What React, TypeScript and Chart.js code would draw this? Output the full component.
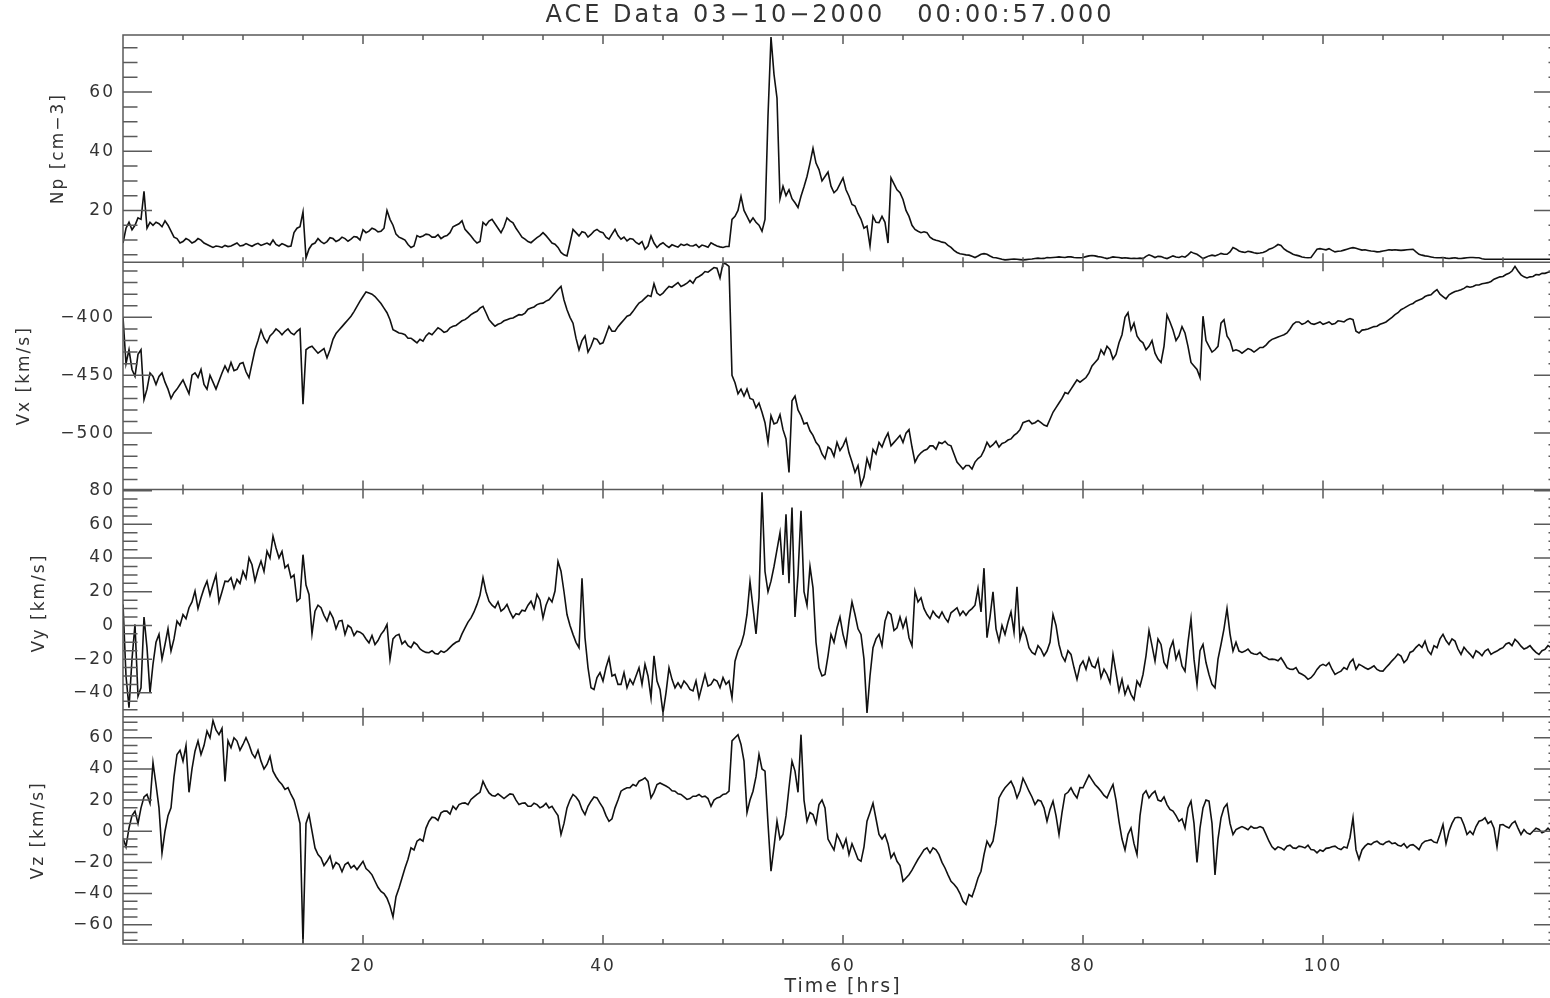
import React, { useEffect, useRef } from 'react';
import { Chart, registerables } from 'chart.js';

Chart.register(...registerables);

// ---- data (read every 0.25 h, from 0 to 120 h; one row = 5 h) ----
const STEP_HRS = 0.25;

const NP = [
  9, 14, 16, 13.5, 15, 17.5, 17, 26.5, 14, 16, 15, 16, 15.5, 14.5, 16.5, 15, 13, 11, 10.5, 9,
  9.5, 10.5, 10, 9, 9.5, 10.5, 10, 9, 8.5, 8, 7.5, 8, 7.8, 7.5, 8.2, 7.8, 8, 8.5, 9, 8,
  8.2, 8.8, 8.3, 7.9, 8.5, 8.9, 8.2, 8.6, 9, 8.4, 10, 8.5, 8, 8.8, 8.3, 7.8, 8, 12.5, 14, 14.5,
  19.5, 4, 7, 8.5, 9, 10.5, 9.5, 8.8, 9.5, 10.8, 10.5, 9.5, 10, 11, 10.5, 9.6, 10.3, 11.2, 11, 10,
  13.5, 12.5, 13, 14, 13.6, 12.8, 13, 14, 20, 17, 15, 12, 11, 10.5, 10, 8.5, 7.5, 8, 11.5, 11,
  11.4, 12, 11.8, 11, 11, 11.8, 10.5, 11.2, 11.5, 12.5, 14.5, 15, 15.5, 16.5, 13.6, 12.5, 11.4, 10, 9, 9.5,
  16, 15, 16.4, 17, 15.5, 14, 12.5, 14.5, 17.5, 16.5, 15.8, 14, 12.5, 11, 10.3, 9.5, 9.1, 10, 10.8, 11.5,
  12.5, 11.5, 10.3, 9, 8.6, 7.5, 5.8, 5, 4.6, 9, 13.6, 12.5, 11.4, 12.8, 12.5, 11, 11.9, 13, 13.6, 12.8,
  12.5, 11, 10.3, 12, 13.6, 11.5, 10.3, 11, 9.7, 10.5, 10.3, 9.2, 8.6, 9.5, 6.9, 8, 11.4, 9, 7.5, 8.5,
  9.1, 8.2, 7.5, 8.4, 8, 7.6, 8.6, 8.2, 8.6, 8.1, 8, 8.5, 7.5, 8.3, 8, 7.6, 9.1, 8.5, 8, 7.7,
  7.5, 7.8, 7.8, 17, 18, 20, 24.8, 20, 18, 16, 17.5, 16, 15, 13, 17, 52, 78.6, 66, 58, 24,
  28.2, 25, 27, 24, 22.6, 21, 24.8, 28, 31.5, 36, 41, 36, 33.8, 30, 31.5, 33, 28.2, 26, 27, 29,
  31, 27, 24.8, 22, 21.5, 19, 17, 14, 14.7, 8, 18, 16, 15.9, 18, 16, 9, 31, 29, 27, 26,
  23.7, 20, 18, 15, 13.6, 13, 12.5, 12.8, 12.5, 11, 10.3, 9.9, 9.7, 9.3, 9.1, 8.2, 7.5, 6.5, 5.8, 5.4,
  5.2, 5, 4.9, 4.5, 4.1, 4.6, 5.2, 5.4, 5.2, 4.6, 4.1, 4, 3.8, 3.5, 3.3, 3.4, 3.5, 3.6, 3.5, 3.4,
  3.3, 3.4, 3.5, 3.6, 3.75, 3.9, 3.75, 3.8, 4.1, 4, 4.1, 4.2, 4.3, 4.2, 4.1, 4.3, 4.3, 4.1, 4, 4,
  4.1, 4.4, 4.65, 4.8, 4.65, 4.4, 4.3, 4, 3.75, 4, 4.3, 4.2, 4.1, 3.9, 4, 3.9, 3.75, 3.8, 3.75, 3.9,
  3.75, 4.5, 5, 4.6, 4.1, 4.5, 4.4, 4, 3.75, 4.2, 4.65, 4.3, 4.1, 4.5, 4.2, 5, 6, 5.5, 5.2, 4.5,
  3.75, 4.2, 4.65, 4.9, 4.65, 5, 5.5, 5.2, 5.2, 6, 7.45, 7, 6.3, 6, 5.8, 6.2, 6, 5.7, 5.5, 5.6,
  5.8, 6.2, 6.9, 7.2, 7.8, 8.5, 8.2, 7, 6.3, 5.8, 5.2, 4.9, 4.65, 4.3, 4.1, 4, 4.1, 5.5, 6.9, 7.1,
  6.9, 6.7, 7.1, 6.5, 6, 6.2, 6.3, 6.6, 6.9, 7.2, 7.45, 7.2, 6.9, 6.6, 6.7, 6.5, 6.3, 6.2, 6, 6.1,
  6.3, 6.5, 6.7, 6.6, 6.7, 6.6, 6.5, 6.6, 6.7, 6.8, 6.9, 6, 5.2, 4.9, 4.65, 4.5, 4.3, 4.1, 4, 4,
  4.1, 3.9, 3.75, 3.9, 4, 3.8, 3.75, 3.9, 4, 4.1, 4.1, 4, 4, 3.7, 3.5, 3.5, 3.5, 3.5, 3.5, 3.5,
  3.5, 3.5, 3.5, 3.5, 3.5, 3.5, 3.5, 3.5, 3.5, 3.5, 3.5, 3.5, 3.5, 3.5, 3.5, 3.5, 3.5, 3.5, 3.5, 3.5,
  3.5,
];

const VX = [
  -400, -440, -428, -445, -451, -432, -428, -471, -462, -448, -451, -458, -451, -448, -456, -462, -470, -465, -462, -458,
  -454, -460, -466, -450, -448, -452, -445, -458, -462, -450, -456, -462, -455, -448, -442, -447, -439, -446, -445, -440,
  -439, -447, -452, -440, -428, -420, -411, -418, -422, -416, -413.5, -410, -412, -415, -412, -410, -413.5, -415, -412, -410,
  -475, -428, -426, -425, -428, -431, -429, -427, -435, -428, -419, -414, -411, -408, -405, -402, -399, -395, -390.5, -386,
  -382, -378, -379, -380, -382, -385, -388, -392, -396, -402, -410.6, -412, -413.5, -414, -415, -418, -418, -420, -422, -419,
  -420.6, -416, -413.5, -415, -412, -409, -410.6, -413, -412, -409, -407.7, -407, -405, -403, -402, -400, -397.7, -396, -394.8, -392,
  -390.5, -396, -402, -405, -407.7, -406, -405, -403, -402, -401, -400.6, -399, -397.7, -398, -396.3, -393, -392, -391, -389, -388,
  -387.7, -386, -384.8, -382, -379, -376, -373.3, -385, -393.4, -400, -405, -418, -428, -420, -416, -430, -425, -418, -419, -423,
  -422, -415, -407.7, -412, -412, -408, -405, -402, -399, -398, -394.8, -391, -387.7, -386, -383.4, -381, -382, -371, -379, -381,
  -379, -376, -373.3, -374, -372, -370, -373.3, -372, -370.5, -368, -370.5, -366, -364.7, -363, -360.4, -361, -359, -357, -357.6, -366,
  -353.3, -354, -356, -450, -456.5, -466, -462, -468, -462, -470, -471, -478, -474, -482, -491, -508, -485, -492, -491, -484,
  -497, -505, -534, -472, -468, -480, -485, -492, -491, -498, -502, -508, -511, -518, -522, -512, -514, -520, -508, -515,
  -511, -505, -517, -525, -534, -528, -545, -538, -522, -530, -514, -518, -508, -512, -505, -500, -511, -508, -505, -502,
  -508, -500, -497, -512, -525, -520, -517, -515, -514, -511, -511, -514, -508, -509, -507, -510, -511, -518, -525, -528,
  -531, -528, -528, -531, -525, -522, -520, -515, -508, -512, -510, -507, -512, -509, -508, -506, -505, -502, -500, -497,
  -491, -490, -489, -492, -491, -489, -491, -493, -494, -488, -482, -478, -474, -470, -465, -466, -462, -458, -454, -456,
  -454, -452, -448, -442, -439, -436, -428, -432, -425, -428, -436, -432, -422, -415, -400, -396, -411, -405, -416, -420,
  -422, -428, -425, -420, -431, -436, -439, -425, -398, -404, -411, -420, -416, -408, -413.5, -425, -439, -442, -445, -452,
  -399, -420, -425, -430, -428, -425, -405, -402, -416, -420, -429, -428, -429, -431, -429, -427, -428, -430, -428, -426,
  -426, -424, -421, -419, -418, -417, -416, -415, -413.5, -410, -406, -404, -404, -406, -405, -403, -405.4, -406, -405, -404,
  -406, -405, -404, -406, -405.4, -403, -403.4, -404, -402, -401, -402, -412, -413.5, -411, -410.6, -410, -409, -408, -407.7, -406,
  -405, -404, -402, -400, -397.7, -396, -393.4, -392, -390.5, -389, -388, -386, -385, -384, -382, -381, -380.5, -378, -376, -380,
  -382, -384, -380.5, -379, -377.6, -377, -376.2, -375, -373.3, -374, -373.3, -372, -372, -371, -370.5, -370, -369, -367, -366, -365,
  -364.7, -363, -362, -360, -356, -360, -363.3, -365, -366, -365, -364.7, -363, -363.3, -362, -362, -361, -360.4, -362, -363.3, -365,
  -366,
];

const VY = [
  12.5, -30, -48.8, -20, 0.6, -42, -37, 5, -13.2, -40, -23, -10, -5.3, -20, -11.3, -2, -15.2, -8, 2.6, 0,
  6.5, 4, 10.5, 14, 20.4, 10, 16.4, 22, 26.3, 18, 24.3, 30, 14, 20, 26.3, 26, 28.3, 22, 27.3, 25,
  32.2, 28, 40.1, 36, 26.3, 33, 38.2, 32, 44.1, 40, 53, 46, 40.1, 44, 34.2, 36, 28.3, 30, 14.4, 16,
  42, 24, 18.4, -5, 8.5, 12, 10.5, 6, 2.6, 8, 4.5, -2, 2.6, 3, -5.3, 0, -1.4, -6, -3.4, -4,
  -5.3, -8, -10.3, -6, -11.3, -9, -5.3, -3, 0.6, -20, -8, -6, -5.3, -11, -9.3, -12, -13.2, -10, -11.3, -14,
  -15.2, -16, -16.2, -15, -16.6, -17, -15.2, -16, -14.8, -13, -11.3, -10, -9.3, -5, -1.4, 2, 4.5, 8, 12.5, 18,
  28.3, 20, 14.4, 12, 10.5, 14, 8.5, 10, 12.5, 8, 4.5, 7, 6.5, 9, 8.5, 12, 14.4, 10, 18.4, 15,
  4.5, 12, 16.4, 14, 20.4, 38, 32.2, 20, 6.5, 0, -5.3, -10, -13.2, 28, -7.3, -25, -37, -38, -31, -28,
  -33, -25, -19.2, -30, -29.1, -35, -35, -28, -37, -32, -35, -30, -25.1, -35, -23.1, -30, -42.9, -18, -33, -38,
  -52, -40, -25.1, -32, -37, -34, -37, -33, -35, -38, -38.9, -33, -42.9, -36, -29.1, -36, -35, -32, -33, -37,
  -31, -35, -33, -43, -21.2, -15, -11.3, -5, 6.5, 26, 10.5, -5, 16.4, 79, 32, 20, 26.3, 35, 45, 55,
  30, 66, 25, 70, 5, 30, 68, 20, 12, 35, 22.3, -10, -25.1, -30, -29.1, -18, -5.3, -10, -1.4, 5,
  -5.3, -12, 2.6, 14, 6.5, -2, -5.3, -20, -52, -30, -13.2, -8, -5.3, -12, 2.6, 8, 6.5, -3, -1.4, 5,
  -1.4, 4, -7.3, -12, 20.4, 14, 16.4, 10, 6.5, 4, 8.5, 6, 4.5, 8, 4.5, 2, 7.5, 9, 10.5, 6,
  8.5, 6, 8.5, 10, 12, 22, 8, 34, -7.3, 5, 20, -2, -9.3, 0, -5.3, 2, 8, -4, 23, -8,
  -1.4, -6, -13.2, -16, -17.2, -12, -14.2, -18, -15.2, -10, 6.5, 0, -11.3, -18, -21.2, -15, -17.2, -25, -32, -24,
  -21.2, -26, -19.2, -24, -25.1, -20, -31, -26, -29.1, -34, -17.2, -28, -38.9, -32, -40.9, -36, -40.9, -44, -33, -36,
  -29.1, -18, -3, -12, -21.2, -8, -11.3, -22, -25.1, -14, -9.3, -20, -15.2, -24, -27.1, -10, 4, -20, -35, -15,
  -11.3, -22, -29.1, -35, -37, -20, -11.3, -2, 10, -5, -15.2, -10, -15.2, -16, -15.2, -14, -16.2, -17, -17.2, -16,
  -18.2, -19, -20.2, -20, -20.2, -21, -19.2, -22, -25.1, -26, -26.1, -25, -28.1, -29, -30.1, -32, -31, -29, -26.1, -24,
  -23.1, -24, -22.1, -26, -29.1, -28, -27.1, -25, -26.1, -22, -20, -26, -23.1, -24, -25.1, -26, -25.1, -24, -26.1, -27,
  -27.1, -25, -23.1, -21, -19.2, -17, -18.2, -22, -20.2, -16, -15.2, -13, -11.3, -13, -9.3, -15, -17.2, -12, -13.2, -8,
  -5.3, -9, -11.3, -8, -9.3, -14, -17.2, -13, -15.2, -17, -19.2, -15, -16.2, -18, -15.2, -14, -17.2, -16, -15.2, -14,
  -13.2, -11, -10.3, -12, -8.3, -10, -12.3, -14, -13.2, -12, -14.2, -16, -17.2, -15, -14.2, -12, -13.2, -15, -14.2, -12,
  -13.2,
];

const VZ = [
  -4.3, -10, 2.1, 10, 12.9, 5, 15, 22, 23.6, 18, 44, 30, 15, -14, 0, 10, 15, 35, 49.3, 52,
  45, 55, 25, 40, 51.4, 58, 49.3, 55, 64.3, 60, 71, 65, 62, 66, 32, 58, 53.6, 60, 57.9, 52,
  55.7, 60, 55.7, 50, 47.1, 52, 45, 40, 42.9, 48, 38.6, 35, 32.1, 30, 26.8, 28, 23.6, 20, 12.9, 5,
  -72, 5, 10.7, 0, -10.7, -15, -17.1, -22, -19.3, -16, -23.6, -20, -21.4, -26, -21.4, -20, -23.6, -22, -24.6, -22,
  -19.3, -24, -25.7, -28, -32.1, -36, -38.6, -40, -43, -48, -55, -42, -36.4, -30, -23.6, -18, -10.7, -12, -6.4, -5,
  -6.4, 2, 6.4, 9, 8.6, 7, 11.8, 13, 12.9, 11, 16, 14, 17.1, 18, 18.2, 17, 20.4, 22, 23.6, 25,
  32, 28, 24.6, 23, 22.5, 24, 22.5, 21, 22.5, 24, 23.6, 20, 17.1, 18, 18.2, 16, 16, 18, 17.1, 15,
  16, 18, 15, 16, 12.9, 10, -2.1, 5, 15, 20, 23.6, 22, 19.3, 14, 10.7, 16, 19.3, 22, 21.4, 18,
  15, 10, 6.4, 8, 15, 20, 25.7, 27, 27.9, 28, 30, 29, 32.1, 33, 34.3, 32, 21.4, 25, 30, 31,
  30, 29, 27.9, 26, 25.7, 24, 23.6, 22, 20.4, 21, 22.5, 22.5, 23.6, 22, 22.5, 21, 16, 20, 21.4, 22,
  23.6, 24, 25.7, 58, 60, 62, 55.7, 45, 12, 20, 25.7, 35, 49.3, 40, 38.6, 5, -25.7, -10, 6.4, -5,
  -2.1, 10, 27.9, 45, 38.6, 25, 62, 20, 6.4, 12, 10.7, 5, 17.1, 20, 15, -5, -8.6, -12, -2.1, -6,
  -10.7, -5, -15, -8, -12.9, -18, -19.3, -10, 6.4, 12, 18, 8, -2.1, -5, -2.1, -8, -17.1, -14, -19.3, -22,
  -32.1, -30, -27.9, -25, -21.4, -18, -15, -12, -10.7, -14, -10.7, -12, -15, -20, -23.6, -28, -32.1, -34, -36.4, -40,
  -45, -47, -40.7, -42, -36.4, -30, -25.7, -15, -6.4, -10, -6.4, 5, 21.4, 25, 27.9, 30, 32.1, 28, 21.4, 26,
  34, 30, 25.7, 22, 17.1, 20, 19.3, 15, 6.4, 14, 19.3, 10, -2.1, 12, 23.6, 25, 27.9, 24, 21.4, 28,
  27.9, 32, 36, 33, 30, 28, 25.7, 23, 21.4, 26, 30, 20, 6.4, -5, -12, -2, 2.1, -8, -15, 10,
  23.6, 26, 21.4, 24, 25.7, 20, 19.3, 22, 17.1, 14, 12.9, 10, 6.4, 8, 2.1, 15, 19.3, 5, -20, 2,
  15, 20, 19.3, 5, -28, -5, 8.6, 15, 17.5, 5, -2.1, 1, 2.1, 3, 2.1, 1, 3.2, 2, 2.1, 3,
  2.1, -2, -6.4, -10, -11.8, -10, -10.7, -12, -9.6, -9, -10.7, -11, -9.6, -10, -10.7, -9, -11.8, -12, -13.9, -12,
  -12.9, -11, -10.7, -10, -9.6, -11, -11.8, -10, -10.7, -4, 8.6, -12, -18, -12, -9.6, -8, -8.6, -7, -6.4, -8,
  -8.6, -7, -6.4, -8, -7.5, -9, -9.6, -8, -10.7, -9, -8.6, -10, -11.8, -8, -6.4, -6, -5.4, -7, -7.5, -2,
  4.3, -8, 0, 5, 8.6, 9, 8.6, 4, -2.1, 0, -2.1, 3, 6.4, 7, 8.6, 5, 6.4, 2, -10, 4,
  4.3, 3, 2.1, 5, 6.4, 2, -2.1, 1, -1.1, -2, 0, 2, 1.1, -1, 0, 2, 0, -2, -1.1, 1,
  -1.1,
];

// ---- tick labels ----
const X_LABEL_HOURS = [20, 40, 60, 80, 100];
const NP_TICKS = [20, 40, 60];
const VX_TICKS = [-500, -450, -400];
const VY_TICKS = [-40, -20, 0, 20, 40, 60, 80];
const VZ_TICKS = [-60, -40, -20, 0, 20, 40, 60];
const TITLE = 'ACE Data 03\u221210\u22122000   00:00:57.000';

// ---- panel axis settings ----
const PANELS = [
  { id: 'yNp', title: 'Np [cm\u22123]', data: NP, ticks: NP_TICKS, min: 2.5, max: 79.3, major: 20, minor: 5, titlePad: 48.8, weight: 4 },
  { id: 'yVx', title: 'Vx [km/s]', data: VX, ticks: VX_TICKS, min: -548.7, max: -352.4, major: 50, minor: 10, titlePad: 14.8, weight: 3 },
  { id: 'yVy', title: 'Vy [km/s]', data: VY, ticks: VY_TICKS, min: -54.2, max: 80.7, major: 20, minor: 5, titlePad: 29.8, weight: 2 },
  { id: 'yVz', title: 'Vz [km/s]', data: VZ, ticks: VZ_TICKS, min: -72.4, max: 73.5, major: 20, minor: 5, titlePad: 28.8, weight: 1 },
];

const FONT = "'DejaVu Sans', sans-serif";
const TEXT_COLOR = '#333333';
const AXIS_COLOR = '#5a5a5a';
const X_MIN = 0;
const X_MAX = 120;
const X_TICK_PAD = 12;

const fmt = (v: number) => String(v).replace('-', '\u2212');

const idlFrame = {
  id: 'idlFrame',
  beforeDraw(chart: any) {
    chart.ctx.letterSpacing = '2px';
  },
  afterDraw(chart: any) {
    const ctx = chart.ctx;
    const { left, right } = chart.chartArea;
    const xs = chart.scales.x;
    ctx.save();
    ctx.letterSpacing = '0px';
    ctx.strokeStyle = AXIS_COLOR;
    ctx.lineWidth = 1.5;
    ctx.beginPath();
    for (const p of PANELS) {
      const s = chart.scales[p.id];
      const top = s.top;
      const bottom = s.bottom;
      ctx.rect(left, top, right - left, bottom - top);
      const start = Math.ceil(s.min / p.minor) * p.minor;
      for (let v = start; v <= s.max + 1e-9; v += p.minor) {
        const y = s.getPixelForValue(v);
        const r = v / p.major;
        const isMajor = Math.abs(r - Math.round(r)) < 1e-6;
        const len = isMajor ? 29 : 14.5;
        ctx.moveTo(left, y);
        ctx.lineTo(left + len, y);
        ctx.moveTo(right, y);
        ctx.lineTo(right - len, y);
      }
      for (let h = 5; h < X_MAX; h += 5) {
        const x = xs.getPixelForValue(h);
        const len = h % 20 === 0 ? 9 : 5;
        ctx.moveTo(x, top);
        ctx.lineTo(x, top + len);
        ctx.moveTo(x, bottom);
        ctx.lineTo(x, bottom - len);
      }
    }
    ctx.stroke();

    ctx.font = `24px ${FONT}`;
    ctx.fillStyle = TEXT_COLOR;
    ctx.textAlign = 'center';
    ctx.textBaseline = 'middle';
    ctx.letterSpacing = '3px';
    ctx.fillText(TITLE, 830, 16);
    ctx.restore();
    ctx.letterSpacing = '0px';
  },
};

function yScale(p: any) {
  return {
    type: 'linear',
    position: 'left',
    stack: 'panels',
    stackWeight: 1,
    weight: p.weight,
    min: p.min,
    max: p.max,
    bounds: 'data',
    grid: { display: false, drawTicks: false },
    border: { display: false },
    afterBuildTicks: (s: any) => {
      s.ticks = p.ticks.map((v: number) => ({ value: v }));
    },
    ticks: {
      autoSkip: false,
      padding: 8,
      color: TEXT_COLOR,
      font: { family: FONT, size: 17 },
      callback: (v: number) => fmt(v),
    },
    title: {
      display: true,
      text: p.title,
      color: TEXT_COLOR,
      font: { family: FONT, size: 17 },
      padding: { top: p.titlePad, bottom: 0 },
    },
    afterFit: (s: any) => {
      s.width = 123;
    },
  };
}

export default function App() {
  const ref = useRef<HTMLCanvasElement | null>(null);

  useEffect(() => {
    if (!ref.current) return;
    const scales: any = {
      x: {
        type: 'linear',
        position: 'bottom',
        min: X_MIN,
        max: X_MAX,
        bounds: 'data',
        grid: { display: false, drawTicks: false },
        border: { display: false },
        afterBuildTicks: (s: any) => {
          s.ticks = X_LABEL_HOURS.map((v) => ({ value: v }));
        },
        ticks: {
          autoSkip: false,
          maxRotation: 0,
          padding: X_TICK_PAD,
          color: TEXT_COLOR,
          font: { family: FONT, size: 17 },
          callback: (v: number) => String(v),
        },
        title: {
          display: true,
          text: 'Time [hrs]',
          color: TEXT_COLOR,
          font: { family: FONT, size: 19 },
          padding: { top: 0, bottom: 0 },
        },
        afterFit: (s: any) => {
          s.height = 54;
        },
      },
    };
    for (const p of PANELS) scales[p.id] = yScale(p);

    const chart = new Chart(ref.current, {
      type: 'line',
      data: {
        datasets: PANELS.map((p) => ({
          label: p.title,
          yAxisID: p.id,
          data: p.data.map((v, i) => ({ x: i * STEP_HRS, y: v })),
          borderColor: '#111111',
          borderWidth: 1.6,
          pointRadius: 0,
          tension: 0,
          fill: false,
        })),
      },
      options: {
        responsive: false,
        animation: false,
        events: [],
        layout: { padding: { top: 35, right: 0, left: 0, bottom: 0 } },
        plugins: {
          legend: { display: false },
          tooltip: { enabled: false },
          title: { display: false },
        },
        scales,
      } as any,
      plugins: [idlFrame],
    });
    return () => chart.destroy();
  }, []);

  // the x-axis label padding reserves X_TICK_PAD px on the right, so the canvas
  // is that much wider and the overflow is clipped: the plot edge sits at x = 1551
  return (
    <div
      style={{
        position: 'fixed',
        left: 0,
        top: 0,
        width: 1550,
        height: 998,
        overflow: 'hidden',
        background: '#ffffff',
      }}
    >
      <canvas ref={ref} width={1551 + X_TICK_PAD} height={998} style={{ display: 'block' }} />
    </div>
  );
}
